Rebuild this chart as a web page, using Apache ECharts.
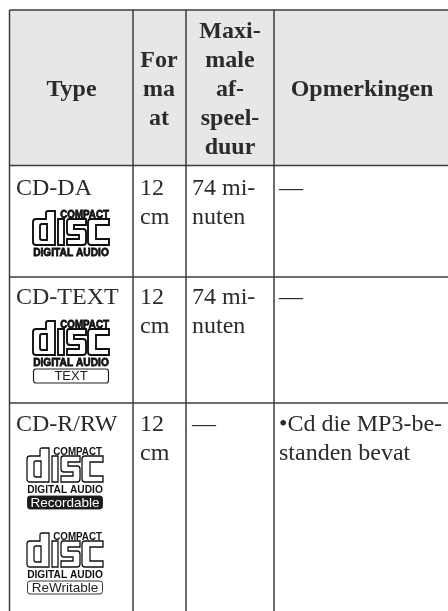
<!DOCTYPE html>
<html><head><meta charset="utf-8">
<style>html,body{margin:0;padding:0;background:#fff}#c{width:448px;height:611px}</style>
<script src="https://cdn.jsdelivr.net/npm/echarts@6/dist/echarts.min.js"></script>
</head><body><div id="c"></div>
<script>
// ---- table content ----
const headers = [["Type"],["For","ma","at"],["Maxi-","male","af-","speel-","duur"],["Opmerkingen"]];
const types = ["CD-DA","CD-TEXT","CD-R/RW"];
const formats = [["12","cm"],["12","cm"],["12","cm"]];
const durations = [["74 mi-","nuten"],["74 mi-","nuten"],["—"]];
const remarks = [["—"],["—"],["•Cd die MP3-be-","standen bevat"]];
const logoCaptions = ["","TEXT","Recordable","ReWritable"];

// ---- layout ----
const W = 448, H = 611;
const colX = [9.5,133,186,274];
const rowY = [10,165.5,277,403];
const headCx = [71.5,159,230,362];
const pad = [16,140,192,279];
const firstLine = [189,298,425];
const lh = 29;
const INK = '#2b2b2b', RULE = '#3d3d3d', SHADE = '#e6e7e9';
const SERIF = '"Liberation Serif","Times New Roman",serif';
const SANS = '"Liberation Sans",Arial,sans-serif';

// outline of the disc lettering, local units
const DISC =
 'M3 8H13V2Q13 0 15 0H22V34H3Q0 34 0 31V11Q0 8 3 8Z' +
 'M9 13H14V29H9Q7 29 7 27V15Q7 13 9 13Z' +
 'M25 8H31V34H25Z' +
 'M36 8H53V14H41V18H50Q53 18 53 21V31Q53 34 50 34H34V28H46V24H37Q34 24 34 21V11Q34 8 36 8Z' +
 'M58 8H76V14H63V28H76V34H58Q55 34 55 31V11Q55 8 58 8Z';
const logoPos = [[33,211,1.9,1],[33,321,1.9,1],[27,448,1.3,0],[27,533,1.3,0]];

const rules = [];
colX.forEach(x => rules.push([x,rowY[0],x,H]));
rowY.forEach(y => rules.push([colX[0],y,W,y]));

const texts = [];
headers.forEach((ls,c) => {
  const mid = (rowY[0]+rowY[1])/2 + 2.5;
  ls.forEach((t,i) => texts.push({t, x:headCx[c], y:mid+(i-(ls.length-1)/2)*lh, bold:true, align:'center'}));
});
[types.map(t=>[t]),formats,durations,remarks].forEach((col,c) => col.forEach((ls,r) =>
  ls.forEach((t,i) => texts.push({t, x:pad[c], y:firstLine[r]+i*lh, bold:false, align:'left'}))));

const chart = echarts.init(document.getElementById('c'),null,{renderer:'canvas'});
chart.setOption({
  animation:false,
  backgroundColor:'#fff',
  grid:{left:0,right:0,top:0,bottom:0},
  xAxis:{type:'value',min:0,max:W,show:false},
  yAxis:{type:'value',min:0,max:H,inverse:true,show:false},
  series:[
   {type:'custom',silent:true,clip:false,data:[[0]],z:1,
    renderItem(p,api){
      const a=api.coord([colX[0],rowY[0]]), b=api.coord([W,rowY[1]]);
      return {type:'rect',shape:{x:a[0],y:a[1],width:b[0]-a[0],height:b[1]-a[1]},style:{fill:SHADE}};
    }},
   {type:'custom',silent:true,clip:false,data:rules,z:2,
    renderItem(p,api){
      const a=api.coord([api.value(0),api.value(1)]), b=api.coord([api.value(2),api.value(3)]);
      return {type:'line',shape:{x1:a[0],y1:a[1],x2:b[0],y2:b[1]},style:{stroke:RULE,lineWidth:1.5}};
    }},
   {type:'custom',silent:true,clip:false,data:texts.map((d,i)=>[i]),z:3,
    renderItem(p,api){
      const d=texts[api.value(0)], a=api.coord([d.x,d.y]);
      return {type:'text',x:a[0],y:a[1],style:{text:d.t,fill:INK,align:d.align,verticalAlign:'middle',
        font:(d.bold?'bold ':'')+'24px '+SERIF}};
    }},
   {type:'custom',silent:true,clip:false,data:logoCaptions.map((d,i)=>[i]),z:4,
    renderItem(p,api){
      const i=api.value(0), L=logoPos[i], a=api.coord([L[0],L[1]]), cap=logoCaptions[i], heavy=L[3];
      const kids=[
       {type:'path',shape:{pathData:DISC},style:{fill:'none',stroke:'#111',lineWidth:L[2]}},
       {type:'text',x:heavy?76:75,y:3.5,scaleY:1.2,style:{text:'COMPACT',align:'right',verticalAlign:'middle',fill:'#111',
         font:'bold 9.8px '+SANS,stroke:heavy?'#111':null,lineWidth:heavy?0.7:0}},
       {type:'text',x:38,y:42,scaleY:1.1,style:{text:'DIGITAL AUDIO',align:'center',verticalAlign:'middle',fill:'#111',
         font:'bold 10.2px '+SANS,stroke:heavy?'#111':null,lineWidth:heavy?0.7:0}}
      ];
      if(cap){
        const dark=cap==='Recordable';
        kids.push({type:'rect',shape:{x:0.5,y:48,width:75,height:heavy?14:13,r:2.5},
          style:{fill:dark?'#1a1a1a':'#fff',stroke:'#222',lineWidth:heavy?1.2:0.9}});
        kids.push({type:'text',x:38,y:heavy?55.5:55,style:{text:cap,align:'center',verticalAlign:'middle',
          fill:dark?'#fff':'#222',font:(heavy?'13':'13.5')+'px '+SANS}});
      }
      return {type:'group',x:a[0],y:a[1],children:kids};
    }}
  ]
});
</script></body></html>
